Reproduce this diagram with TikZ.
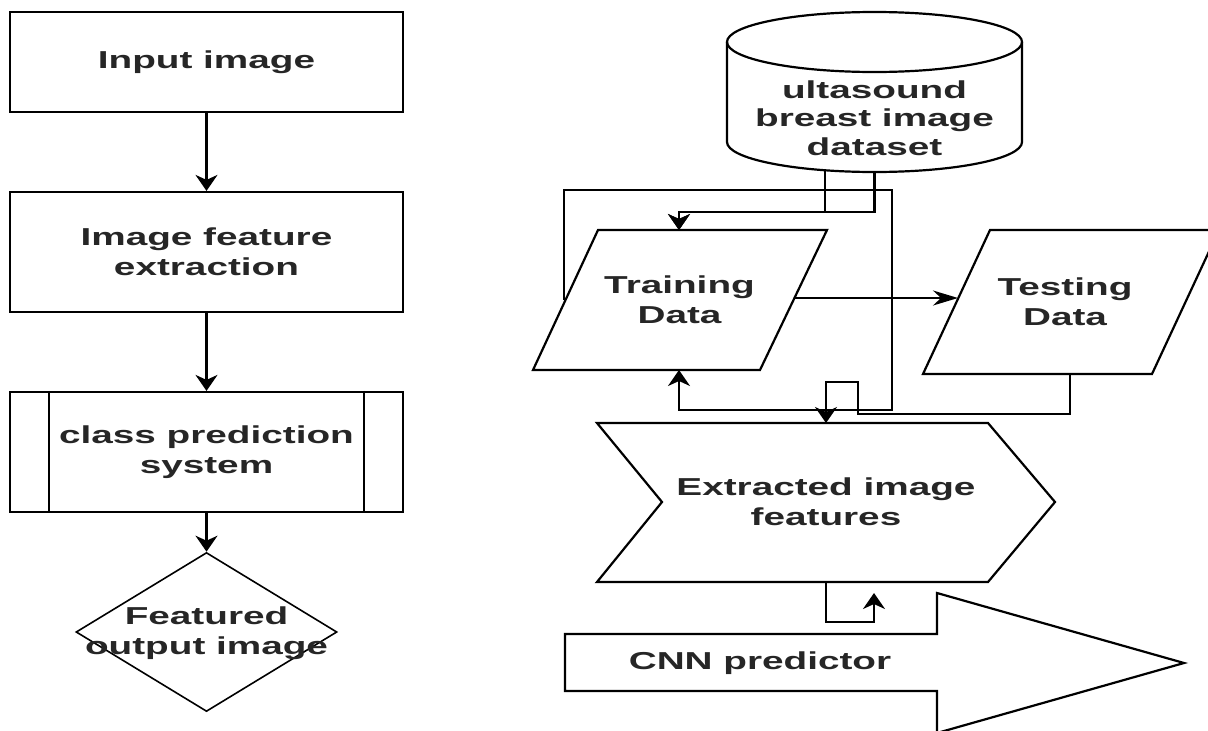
\documentclass[tikz,border=0pt]{standalone}
\usepackage{fontspec}
\setmainfont[FakeStretch=1.58]{Liberation Sans}
\usetikzlibrary{arrows.meta,shapes.geometric,calc}
\begin{document}
\begin{tikzpicture}[x=1pt,y=-1pt, line width=2.2pt,
  txt/.style={align=center, font=\fontsize{24.5}{30}\selectfont\bfseries, text=black!85, inner sep=0pt},
  box/.style={draw, rectangle, minimum width=393pt, inner sep=0pt},
  varr/.style={-{Stealth[length=16pt,width=22pt,inset=5pt]}},
  harr/.style={-{Stealth[length=25pt,width=15pt,inset=8pt]}}]
\useasboundingbox (0,0) rectangle (1208,731);

% ---------- left column ----------
\node[box, txt, minimum height=100pt] (inp) at (206.5,62) {Input image};
\node[box, txt, minimum height=120pt] (feat) at (206.5,252) {Image feature\\extraction};
\node[box, txt, minimum height=120pt] (cls) at (206.5,452) {class prediction\\system};
\draw ($(cls.north west)+(40,0)$) -- ($(cls.south west)+(40,0)$);
\draw ($(cls.north east)+(-40,0)$) -- ($(cls.south east)+(-40,0)$);
\node[draw, diamond, minimum width=261pt, minimum height=159pt, inner sep=0pt, line width=1.6pt] (out) at (206.5,632) {};
\node[txt] (outtxt) at (206.5,633) {Featured\\output image};

\draw[varr] (inp.south) -- (feat.north);
\draw[varr] (feat.south) -- (cls.north);
\draw[varr] (cls.south) -- (out.north);

% ---------- right side shapes ----------
% cylinder
\draw (874.5,42) ellipse [x radius=147.5, y radius=30];
\draw (727,42) -- (727,142) arc[start angle=180, end angle=0, x radius=147.5, y radius=30] -- (1022,42);
\node[txt, font=\fontsize{24.5}{28.5}\selectfont\bfseries] (ds) at (874.5,118) {ultasound\\breast image\\dataset};

% training data
\draw (598,230) -- (827,230) -- (760,370) -- (533,370) -- cycle;
\node[txt] (train) at (679.5,300) {Training\\Data};

% testing data
\draw (990,230) -- (1219,230) -- (1152,374) -- (923,374) -- cycle;
\node[txt] (test) at (1065,302) {Testing\\Data};

% extracted image features
\draw (597,423) -- (988,423) -- (1055,502) -- (988,582) -- (597,582) -- (662,502) -- cycle;
\node[txt] (extr) at (826,502) {Extracted image\\features};

% CNN predictor
\draw (565,634) -- (937,634) -- (937,593) -- (1184,663) -- (937,733) -- (937,691) -- (565,691) -- cycle;
\node[txt] (cnn) at (760,663) {CNN predictor};

% ---------- connection points ----------
\coordinate (dsA) at (825,170);
\coordinate (dsB) at (874.5,172);
\coordinate (trTop) at (679,230);
\coordinate (trBot) at (679,370);
\coordinate (trLeft) at (564,300);
\coordinate (trRight) at (794.5,298);
\coordinate (teLeft) at (958,298);
\coordinate (teBot) at (1070,374);
\coordinate (exTop) at (826,423);
\coordinate (exBot) at (826,582);
\coordinate (cnnTop) at (874,593);

% ---------- connectors ----------
\draw[varr] (dsA) -- ++(0,42) -| (trTop);
\draw[varr] (dsB) -- ++(0,40) -| (trTop);
\draw[varr] (trLeft) -- (564,190) -- (892,190) -- (892,410) -| (trBot);
\draw[harr] (trRight) -- (teLeft);
\draw[varr] (teBot) -- (1070,414) -- (858,414) -- (858,382) -- (826,382) -- (exTop);
\draw[varr] (exBot) -- (826,622) -- (874,622) -- (cnnTop);
\end{tikzpicture}
\end{document}
